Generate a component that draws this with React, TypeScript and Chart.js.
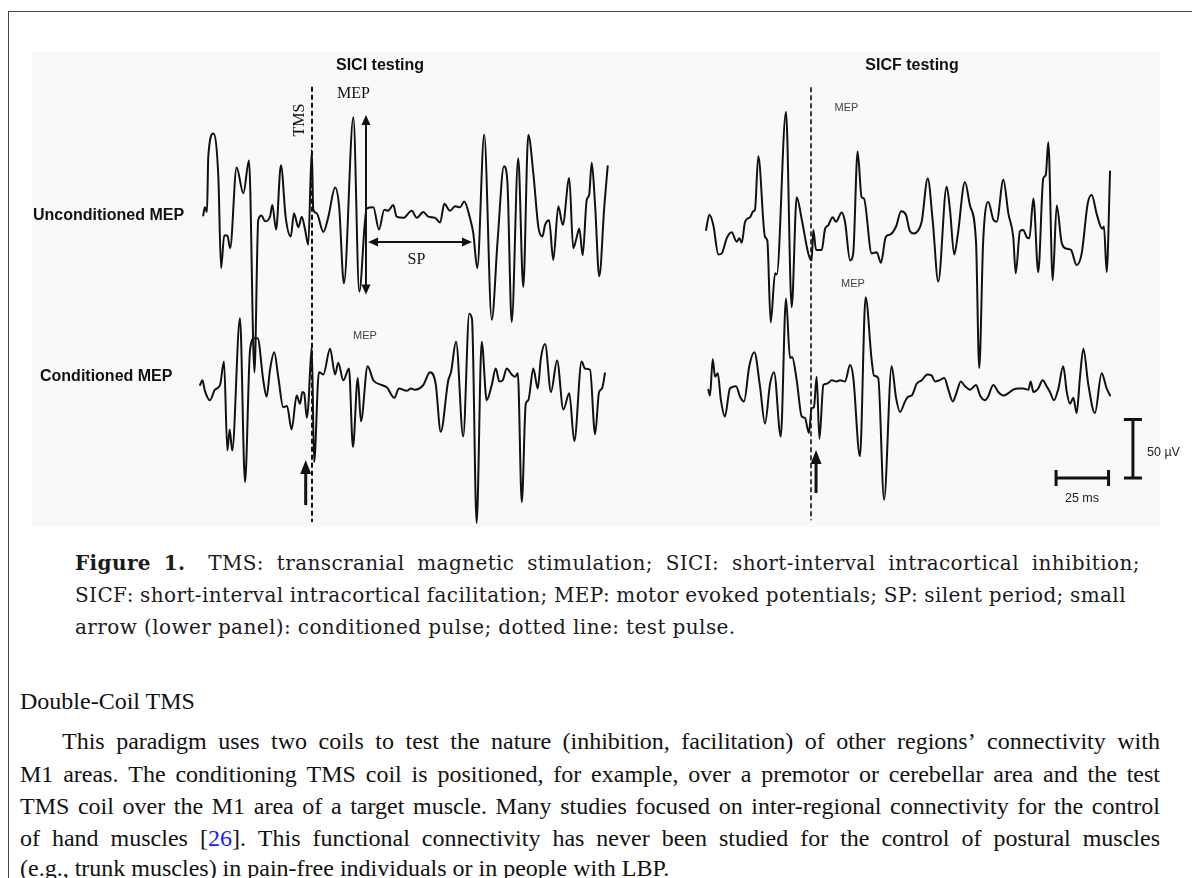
import React, { useEffect, useRef } from "react";
import { Chart, registerables } from "chart.js";

Chart.register(...registerables);

type Pt = [number, number];

// Each trace: [time in ms relative to the test TMS pulse, amplitude in µV relative to baseline]
const SICI_UNCONDITIONED: Pt[] = [
  [-51.8, -3], [-51, 4], [-50, 0], [-49.4, 47], [-47, 67], [-44.6, 30], [-43.3, -48], [-41.8, -20],
  [-40.3, -20], [-39, -31], [-35.9, 38], [-32.7, 16], [-30, 44], [-27.4, -137], [-25.6, -7], [-24, -3],
  [-22.4, -8], [-20, -4], [-18.9, 6], [-17.1, -15], [-14.8, 40], [-12.5, -5], [-10.1, -21], [-8.6, -1],
  [-6.5, -13], [-4.9, -4], [-3.3, -15], [-1.8, -28], [-0.1, 53], [0.6, 2], [2.2, -1], [5.4, -17],
  [7.8, -4], [11, 21], [12.9, 5], [15.2, -61], [19.7, 81], [22.5, -68], [26, 3], [29.2, 4],
  [31.9, -15], [34.4, 2], [36.2, 1], [38.7, 6], [40.3, -4], [43.5, -5], [47.5, 1], [49.9, -5],
  [53, 0], [55.4, -4], [58.6, -5], [61, -9], [63, 7], [65.7, 1], [68.1, 5], [70.5, 4],
  [72.5, 9], [75.2, -5], [76.8, -18], [78.7, -48], [82, 66], [85.6, -92], [88.4, -24], [91.4, 39],
  [93, 27], [95.1, -94], [98.2, 46], [100.6, -64], [103, 66], [105.4, 33], [107.8, -13], [109.7, -21],
  [111, -11], [112.9, -7], [114.9, -41], [117.3, 5], [119.4, -11], [122.5, 29], [124.4, -31], [126, -22],
  [127.3, -14], [128.9, -37], [130.8, 10], [132, 15], [133.2, 42], [134.8, 6], [136.8, -55], [139.2, 5],
  [140.8, 39],
];

const SICI_CONDITIONED: Pt[] = [
  [-53.3, 0], [-52.2, 4], [-51, -5], [-48.6, -13], [-46.2, -4], [-43.8, 0], [-41.9, 20], [-40.3, -56],
  [-39.2, -38], [-38, -56], [-34.3, 57], [-31.9, -83], [-29.5, 30], [-27.5, 40], [-25.9, 40], [-23.2, 4],
  [-21.6, -10], [-20, 13], [-18, 28], [-16, 6], [-13.7, -19], [-11.9, -18], [-9.7, -38], [-7.3, -9],
  [-5.7, -16], [-4.6, -6], [-3.7, -7], [-2.5, -28], [-1.8, -19], [-0.1, 33], [1, -66], [3.3, 11],
  [5.4, 9], [8.6, 31], [11, 9], [12.5, 19], [14.9, 4], [17.6, 14], [19.5, -53], [21.8, 6],
  [23.3, -31], [26.5, 16], [29.2, 4], [33.2, 0], [35.6, -2], [39.2, -11], [41.4, -3], [45.1, -5],
  [47.1, -3], [49, -4], [53, 0], [56.2, 11], [58.9, 1], [61.3, -40], [64.9, 4], [66.2, 11],
  [68.6, 37], [72, -44], [74.9, 61], [76.2, 56], [78.4, -118], [80.8, 37], [83.2, -13], [85.6, 0],
  [87.5, 14], [89.2, 3], [90.8, 4], [92.7, 14], [95.1, 9], [96.7, 7], [98, 10], [99.9, -100],
  [101.8, -16], [103, -13], [105.4, 14], [107.5, -3], [109, 23], [111, 35], [113.8, -6], [116.7, 21],
  [119.7, -21], [122.5, -7], [124.9, -48], [128.4, 20], [130, 14], [132.4, 13], [134.8, -42], [136.7, -6],
  [138.1, -3], [139.5, 10],
];

const SICF_UNCONDITIONED: Pt[] = [
  [-50, 0], [-48.4, 13], [-46.5, 4], [-44.1, -21], [-42.5, -20], [-40.1, -7], [-37.8, -2], [-35.4, -10],
  [-34.1, -7], [-33, -11], [-31.4, 7], [-29, 11], [-27.5, 16], [-26.7, 17], [-25.1, 63], [-21.9, -6],
  [-20.8, -9], [-19.2, -79], [-17.1, -37], [-16.3, -38], [-11.9, 101], [-9.2, -66], [-6.8, 28], [-4.4, 9],
  [-1.3, -20], [0.3, -26], [1.1, 0], [2.4, -17], [5.1, -17], [6.7, 1], [8.2, 4], [10.3, 11],
  [11.9, 7], [14.6, 15], [16.2, 7], [18.6, -26], [20.1, -20], [22.2, 67], [24.1, 28], [25.2, 27],
  [28.9, -20], [31.3, -19], [33.3, -28], [35.6, -6], [37.6, -4], [40.5, 3], [42.9, 16], [45.2, 13],
  [47.1, -1], [49, -3], [50.8, -1], [52.7, 7], [55.6, 44], [58, 7], [60.6, -44], [64.6, 37],
  [66.2, 17], [68.2, -21], [69.9, -4], [73.3, 41], [75.7, 21], [78.6, -11], [80.1, -118], [82, -9],
  [84.4, 24], [86.8, 9], [88.4, 7], [91.6, 43], [94, 14], [96.3, -6], [97.5, -37], [99.5, -1],
  [101.1, 0], [102.7, -6], [104, -7], [105.9, 27], [108.2, -36], [110.6, 44], [111.8, 47], [113, 75],
  [115.1, -43], [117, 21], [119.4, -11], [121.8, -16], [123.8, -17], [126.5, -30], [128.9, -20], [131.8, 23],
  [133.7, 30], [136, 14], [138.7, 1], [139.5, 3], [140.8, -36], [142.4, 50],
];

const SICF_CONDITIONED: Pt[] = [
  [-48.9, -4], [-48.1, -9], [-46.8, 22], [-45.7, 7], [-44.4, 10], [-42.9, -13], [-41, -27], [-38.6, -3],
  [-35.7, -1], [-33.8, -10], [-31.9, -14], [-29.4, 16], [-27, 28], [-24.3, -1], [-21.9, -33], [-19.5, 1],
  [-17.6, 11], [-14.4, -44], [-11.9, 74], [-10, 23], [-9, 24], [-6.8, 4], [-4.4, -27], [-2.9, -28],
  [-1, -41], [0.3, -20], [1.4, -19], [2.7, 7], [4, -46], [5.9, 0], [7.5, 1], [9.9, 4],
  [12.2, 3], [13.8, 4], [16.2, 3], [18.6, 17], [20.1, 7], [23.3, -61], [26, 75], [28.9, 21],
  [30, 8], [32, 6], [34.8, -98], [38.4, 16], [40.5, -11], [42.4, -23], [44.8, -14], [46.3, -10],
  [48, -9], [50.3, 1], [52.7, 4], [55.4, 9], [57.5, 8], [59, 3], [61.1, 4], [63.5, 6],
  [65.4, -4], [67.5, -14], [69.4, -6], [71.3, 3], [73.3, -1], [75.7, -4], [78.6, 0], [80.5, -9],
  [82.9, -13], [84.3, -10], [86.8, 0], [89.2, -6], [91.6, -9], [94, -7], [96.3, -4], [98.7, -3],
  [101.1, -3], [103.5, -4], [104.6, 3], [105.9, -6], [108.2, -3], [110.3, 4], [112.2, -1], [113.8, -6],
  [115.7, -13], [117.8, -3], [120.1, 16], [121.8, -6], [123.3, -16], [124.9, -11], [126.5, -24], [128.1, 7],
  [129.7, 31], [132, 1], [135.2, -24], [138.4, 10], [140.8, -3], [142.4, -9],
];

// Scale bars (calibration)
const TIME_BAR_MS = 25;
const AMP_BAR_UV = 50;

// ---------- layout (page pixels) ----------
const FIG = { left: 32, top: 52, width: 1128, height: 475 };
const PX_PER_MS = 2.1;
const PX_PER_UV = 1.17;
const SICI_PULSE_X = 312;
const SICF_PULSE_X = 811;
const SICI_UPPER_BASE_Y = 212;
const SICF_UPPER_BASE_Y = 230;
const LOWER_BASE_Y = 385;

const xRange = (zero: number) => ({
  min: (FIG.left - zero) / PX_PER_MS,
  max: (FIG.left + FIG.width - zero) / PX_PER_MS,
});
const yRange = (zero: number) => ({
  min: (zero - (FIG.top + FIG.height)) / PX_PER_UV,
  max: (zero - FIG.top) / PX_PER_UV,
});

// annotation geometry in data units (ms / µV) of the given axes
const ARROWS = [
  { xAxis: "xL", yAxis: "yU", from: [25.7, -70.5], to: [25.7, 83], both: true, width: 2, head: 10, headW: 9 },
  { xAxis: "xL", yAxis: "yU", from: [26.7, -25.6], to: [76.2, -25.6], both: true, width: 2, head: 10, headW: 9 },
  { xAxis: "xL", yAxis: "yLo", from: [-3, -102.6], to: [-3, -64.1], both: false, width: 3, head: 14, headW: 11 },
  { xAxis: "xR", yAxis: "yLo", from: [2.4, -92.3], to: [2.4, -55.6], both: false, width: 3, head: 14, headW: 11 },
];
const TIME_BAR_START = 116.7;
const BAR_BASE_UV = -79.5;
const AMP_BAR_AT = 153.3;

const toXY = (pts: Pt[]) => pts.map(([x, y]) => ({ x, y }));

const annotationPlugin = {
  id: "emgAnnotations",
  afterDatasetsDraw(chart: any) {
    const ctx: CanvasRenderingContext2D = chart.ctx;
    ctx.save();
    ctx.fillStyle = "#111";
    ctx.strokeStyle = "#111";
    ctx.lineCap = "butt";
    const head = (x: number, y: number, ang: number, len: number, w: number) => {
      ctx.beginPath();
      ctx.moveTo(x, y);
      ctx.lineTo(x - len * Math.cos(ang) + (w / 2) * Math.sin(ang), y - len * Math.sin(ang) - (w / 2) * Math.cos(ang));
      ctx.lineTo(x - len * Math.cos(ang) - (w / 2) * Math.sin(ang), y - len * Math.sin(ang) + (w / 2) * Math.cos(ang));
      ctx.closePath();
      ctx.fill();
    };
    for (const a of ARROWS) {
      const xs = chart.scales[a.xAxis];
      const ys = chart.scales[a.yAxis];
      const x1 = xs.getPixelForValue(a.from[0]);
      const y1 = ys.getPixelForValue(a.from[1]);
      const x2 = xs.getPixelForValue(a.to[0]);
      const y2 = ys.getPixelForValue(a.to[1]);
      const ang = Math.atan2(y2 - y1, x2 - x1);
      const sx = a.both ? x1 + (a.head - 1) * Math.cos(ang) : x1;
      const sy = a.both ? y1 + (a.head - 1) * Math.sin(ang) : y1;
      const ex = x2 - (a.head - 1) * Math.cos(ang);
      const ey = y2 - (a.head - 1) * Math.sin(ang);
      ctx.lineWidth = a.width;
      ctx.beginPath();
      ctx.moveTo(sx, sy);
      ctx.lineTo(ex, ey);
      ctx.stroke();
      head(x2, y2, ang, a.head, a.headW);
      if (a.both) head(x1, y1, ang + Math.PI, a.head, a.headW);
    }
    // calibration bars
    const xr = chart.scales.xR;
    const yl = chart.scales.yLo;
    ctx.lineWidth = 3;
    const hx1 = xr.getPixelForValue(TIME_BAR_START);
    const hx2 = xr.getPixelForValue(TIME_BAR_START + TIME_BAR_MS);
    const hy = yl.getPixelForValue(BAR_BASE_UV);
    ctx.beginPath();
    ctx.moveTo(hx1, hy);
    ctx.lineTo(hx2, hy);
    ctx.moveTo(hx1, hy - 8);
    ctx.lineTo(hx1, hy + 8);
    ctx.moveTo(hx2, hy - 8);
    ctx.lineTo(hx2, hy + 8);
    ctx.stroke();
    const vx = xr.getPixelForValue(AMP_BAR_AT);
    const vy1 = yl.getPixelForValue(BAR_BASE_UV);
    const vy2 = yl.getPixelForValue(BAR_BASE_UV + AMP_BAR_UV);
    ctx.beginPath();
    ctx.moveTo(vx, vy1);
    ctx.lineTo(vx, vy2);
    ctx.moveTo(vx - 9, vy1);
    ctx.lineTo(vx + 9, vy1);
    ctx.moveTo(vx - 9, vy2);
    ctx.lineTo(vx + 9, vy2);
    ctx.stroke();
    ctx.restore();
  },
};

const SANS = '"Liberation Sans", Arial, sans-serif';
const TIMES = '"Liberation Serif", "Times New Roman", serif';
const CAPTION_FONT = '"DejaVu Serif", serif';

function Txt(props: {
  x: number;
  y: number;
  align?: "left" | "center";
  rotate?: number;
  style?: React.CSSProperties;
  children: React.ReactNode;
}) {
  const tx = props.align === "left" ? "0" : "-50%";
  return (
    <div
      style={{
        position: "absolute",
        left: props.x,
        top: props.y,
        transform: `translate(${tx}, -50%)${props.rotate ? ` rotate(${props.rotate}deg)` : ""}`,
        whiteSpace: "nowrap",
        lineHeight: 1,
        ...props.style,
      }}
    >
      {props.children}
    </div>
  );
}

function Justified(props: { x: number; y: number; width: number; words: React.ReactNode[]; style: React.CSSProperties }) {
  return (
    <div
      style={{
        position: "absolute",
        left: props.x,
        top: props.y,
        width: props.width,
        transform: "translateY(-50%)",
        display: "flex",
        justifyContent: "space-between",
        whiteSpace: "nowrap",
        lineHeight: 1,
        ...props.style,
      }}
    >
      {props.words.map((w, i) => (
        <span key={i}>{w}</span>
      ))}
    </div>
  );
}

const words = (s: string) => s.split(" ");

export default function App() {
  const canvasRef = useRef<HTMLCanvasElement | null>(null);

  useEffect(() => {
    const canvas = canvasRef.current;
    if (!canvas) return;
    const trace = (data: Pt[], xAxisID: string, yAxisID: string) => ({
      data: toXY(data),
      xAxisID,
      yAxisID,
      borderColor: "#111",
      borderWidth: 2,
      pointRadius: 0,
      fill: false,
      cubicInterpolationMode: "monotone" as const,
      borderJoinStyle: "round" as const,
      borderCapStyle: "round" as const,
    });
    const dashed = (data: Pt[], xAxisID: string, yAxisID: string, w: number) => ({
      data: toXY(data),
      xAxisID,
      yAxisID,
      borderColor: "#111",
      borderWidth: w,
      borderDash: [5, 3],
      pointRadius: 0,
      fill: false,
      tension: 0,
    });
    const chart = new Chart(canvas, {
      type: "line",
      data: {
        datasets: [
          trace(SICI_UNCONDITIONED, "xL", "yU"),
          trace(SICI_CONDITIONED, "xL", "yLo"),
          trace(SICF_UNCONDITIONED, "xR", "yU2"),
          trace(SICF_CONDITIONED, "xR", "yLo"),
          dashed([[0, 107], [0, -265]], "xL", "yU", 2),
          dashed([[0, 122], [0, -248]], "xR", "yU2", 1.6),
        ] as any,
      },
      options: {
        responsive: false,
        maintainAspectRatio: false,
        animation: false,
        events: [],
        layout: { padding: 0 },
        plugins: { legend: { display: false }, tooltip: { enabled: false }, title: { display: false } },
        scales: {
          xL: { type: "linear", display: false, ...xRange(SICI_PULSE_X) },
          xR: { type: "linear", display: false, ...xRange(SICF_PULSE_X) },
          yU: { type: "linear", display: false, ...yRange(SICI_UPPER_BASE_Y) },
          yU2: { type: "linear", display: false, ...yRange(SICF_UPPER_BASE_Y) },
          yLo: { type: "linear", display: false, ...yRange(LOWER_BASE_Y) },
        } as any,
      },
      plugins: [annotationPlugin as any],
    });
    return () => chart.destroy();
  }, []);

  const labelBold: React.CSSProperties = { fontFamily: SANS, fontWeight: 700, fontSize: 16, color: "#111" };
  const serifLbl: React.CSSProperties = { fontFamily: TIMES, fontSize: 16, color: "#111" };
  const smallLbl: React.CSSProperties = { fontFamily: SANS, fontSize: 11, color: "#444" };
  const calLbl: React.CSSProperties = { fontFamily: SANS, fontSize: 12.5, color: "#222" };
  const capStyle: React.CSSProperties = { fontFamily: CAPTION_FONT, fontSize: 20, color: "#1a1a1a", letterSpacing: 0.4 };
  const bodyStyle: React.CSSProperties = { fontFamily: TIMES, fontSize: 24, color: "#111" };

  return (
    <div style={{ position: "absolute", left: 0, top: 0, width: 1192, height: 878, overflow: "hidden", background: "#fff" }}>
      <div
        style={{
          position: "absolute",
          left: 8,
          top: 11,
          width: 1200,
          height: 900,
          borderLeft: "1px solid #444",
          borderTop: "1px solid #444",
        }}
      />
      <div
        style={{
          position: "absolute",
          left: FIG.left,
          top: FIG.top,
          width: FIG.width,
          height: FIG.height,
          background: "#f9f9f9",
        }}
      />
      <canvas
        ref={canvasRef}
        width={FIG.width}
        height={FIG.height}
        style={{ position: "absolute", left: FIG.left, top: FIG.top, width: FIG.width, height: FIG.height }}
      />

      <Txt x={380} y={65} style={labelBold}>SICI testing</Txt>
      <Txt x={912} y={65} style={labelBold}>SICF testing</Txt>
      <Txt x={33} y={215} align="left" style={labelBold}>Unconditioned MEP</Txt>
      <Txt x={40} y={376} align="left" style={labelBold}>Conditioned MEP</Txt>
      <Txt x={337} y={93} align="left" style={serifLbl}>MEP</Txt>
      <Txt x={299} y={120} rotate={-90} style={serifLbl}>TMS</Txt>
      <Txt x={416.5} y={259} style={serifLbl}>SP</Txt>
      <Txt x={365} y={335} style={smallLbl}>MEP</Txt>
      <Txt x={846.5} y={107} style={smallLbl}>MEP</Txt>
      <Txt x={853} y={283} style={smallLbl}>MEP</Txt>
      <Txt x={1082} y={498} style={calLbl}>25 ms</Txt>
      <Txt x={1147} y={452} align="left" style={calLbl}>50 µV</Txt>

      <Justified
        x={75}
        y={563}
        width={1065}
        style={capStyle}
        words={[
          <b>Figure</b>,
          <b style={{ marginRight: 10 }}>1.</b>,
          ...words("TMS: transcranial magnetic stimulation; SICI: short-interval intracortical inhibition;"),
        ]}
      />
      <Justified
        x={75}
        y={595}
        width={1051}
        style={capStyle}
        words={words("SICF: short-interval intracortical facilitation; MEP: motor evoked potentials; SP: silent period; small")}
      />
      <Txt x={75} y={627} align="left" style={capStyle}>
        arrow (lower panel): conditioned pulse; dotted line: test pulse.
      </Txt>

      <Txt x={20} y={701} align="left" style={bodyStyle}>Double-Coil TMS</Txt>
      <Justified
        x={62}
        y={741}
        width={1098}
        style={bodyStyle}
        words={words("This paradigm uses two coils to test the nature (inhibition, facilitation) of other regions’ connectivity with")}
      />
      <Justified
        x={20}
        y={773.5}
        width={1140}
        style={bodyStyle}
        words={words("M1 areas. The conditioning TMS coil is positioned, for example, over a premotor or cerebellar area and the test")}
      />
      <Justified
        x={20}
        y={806}
        width={1140}
        style={bodyStyle}
        words={words("TMS coil over the M1 area of a target muscle. Many studies focused on inter-regional connectivity for the control")}
      />
      <Justified
        x={20}
        y={838}
        width={1140}
        style={bodyStyle}
        words={[
          ...words("of hand muscles"),
          <>
            [<span style={{ color: "#1a1aff" }}>26</span>].
          </>,
          ...words("This functional connectivity has never been studied for the control of postural muscles"),
        ]}
      />
      <Txt x={20} y={868} align="left" style={bodyStyle}>
        (e.g., trunk muscles) in pain-free individuals or in people with LBP.
      </Txt>
    </div>
  );
}
